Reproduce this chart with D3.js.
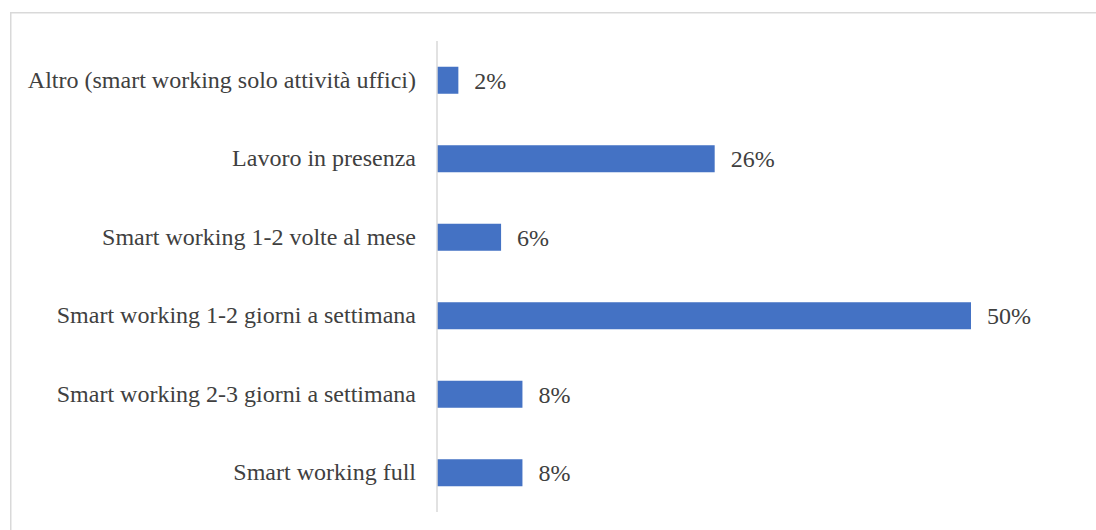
<!DOCTYPE html>
<html>
<head>
<meta charset="utf-8">
<script src="https://cdn.jsdelivr.net/npm/d3@7/dist/d3.min.js"></script>
<style>
  html, body { margin: 0; padding: 0; background: #fff; }
  svg { display: block; }
</style>
</head>
<body>
<script>
// Work arrangement categories, top to bottom, and their shares (%)
const categories = [
  "Altro (smart working solo attività uffici)",
  "Lavoro in presenza",
  "Smart working 1-2 volte al mese",
  "Smart working 1-2 giorni a settimana",
  "Smart working 2-3 giorni a settimana",
  "Smart working full"
];
const values = [2, 26, 6, 50, 8, 8];
const valueLabels = ["2%", "26%", "6%", "50%", "8%", "8%"];

const W = 1096, H = 530;
const svg = d3.select("body").append("svg").attr("width", W).attr("height", H);

// chart frame
svg.append("rect")
  .attr("x", 10.75).attr("y", 12.75)
  .attr("width", W + 10).attr("height", H + 10)
  .attr("fill", "none").attr("stroke", "#d9d9d9").attr("stroke-width", 1.5);

const x0 = 437, plotTop = 41, plotBottom = 512;
const x = d3.scaleLinear().domain([0, 50]).range([x0, 971]);
const y = d3.scaleBand().domain(categories).range([plotTop, plotBottom]).paddingInner(0.656).paddingOuter(0.328);

const font = "'Liberation Serif', 'Times New Roman', serif";

// bars
svg.append("g").selectAll("rect").data(categories).join("rect")
  .attr("x", x(0))
  .attr("y", d => y(d))
  .attr("width", (d, i) => x(values[i]) - x(0))
  .attr("height", y.bandwidth())
  .attr("fill", "#4472c4");

// vertical category axis
const axis = svg.append("g").attr("transform", `translate(${x0},0)`)
  .call(d3.axisLeft(y).tickSize(0).tickPadding(21));
axis.select(".domain").attr("stroke", "#d9d9d9").attr("stroke-width", 1.5)
  .attr("d", `M0,${plotTop}V${plotBottom}`);
axis.selectAll("text")
  .attr("font-family", font).attr("font-size", 24).attr("fill", "#404040");

// value labels
svg.append("g").selectAll("text").data(categories).join("text")
  .attr("x", (d, i) => x(values[i]) + 16)
  .attr("y", d => y(d) + y.bandwidth() / 2)
  .attr("dy", "0.35em")
  .attr("font-family", font).attr("font-size", 24).attr("fill", "#404040")
  .text((d, i) => valueLabels[i]);
</script>
</body>
</html>
